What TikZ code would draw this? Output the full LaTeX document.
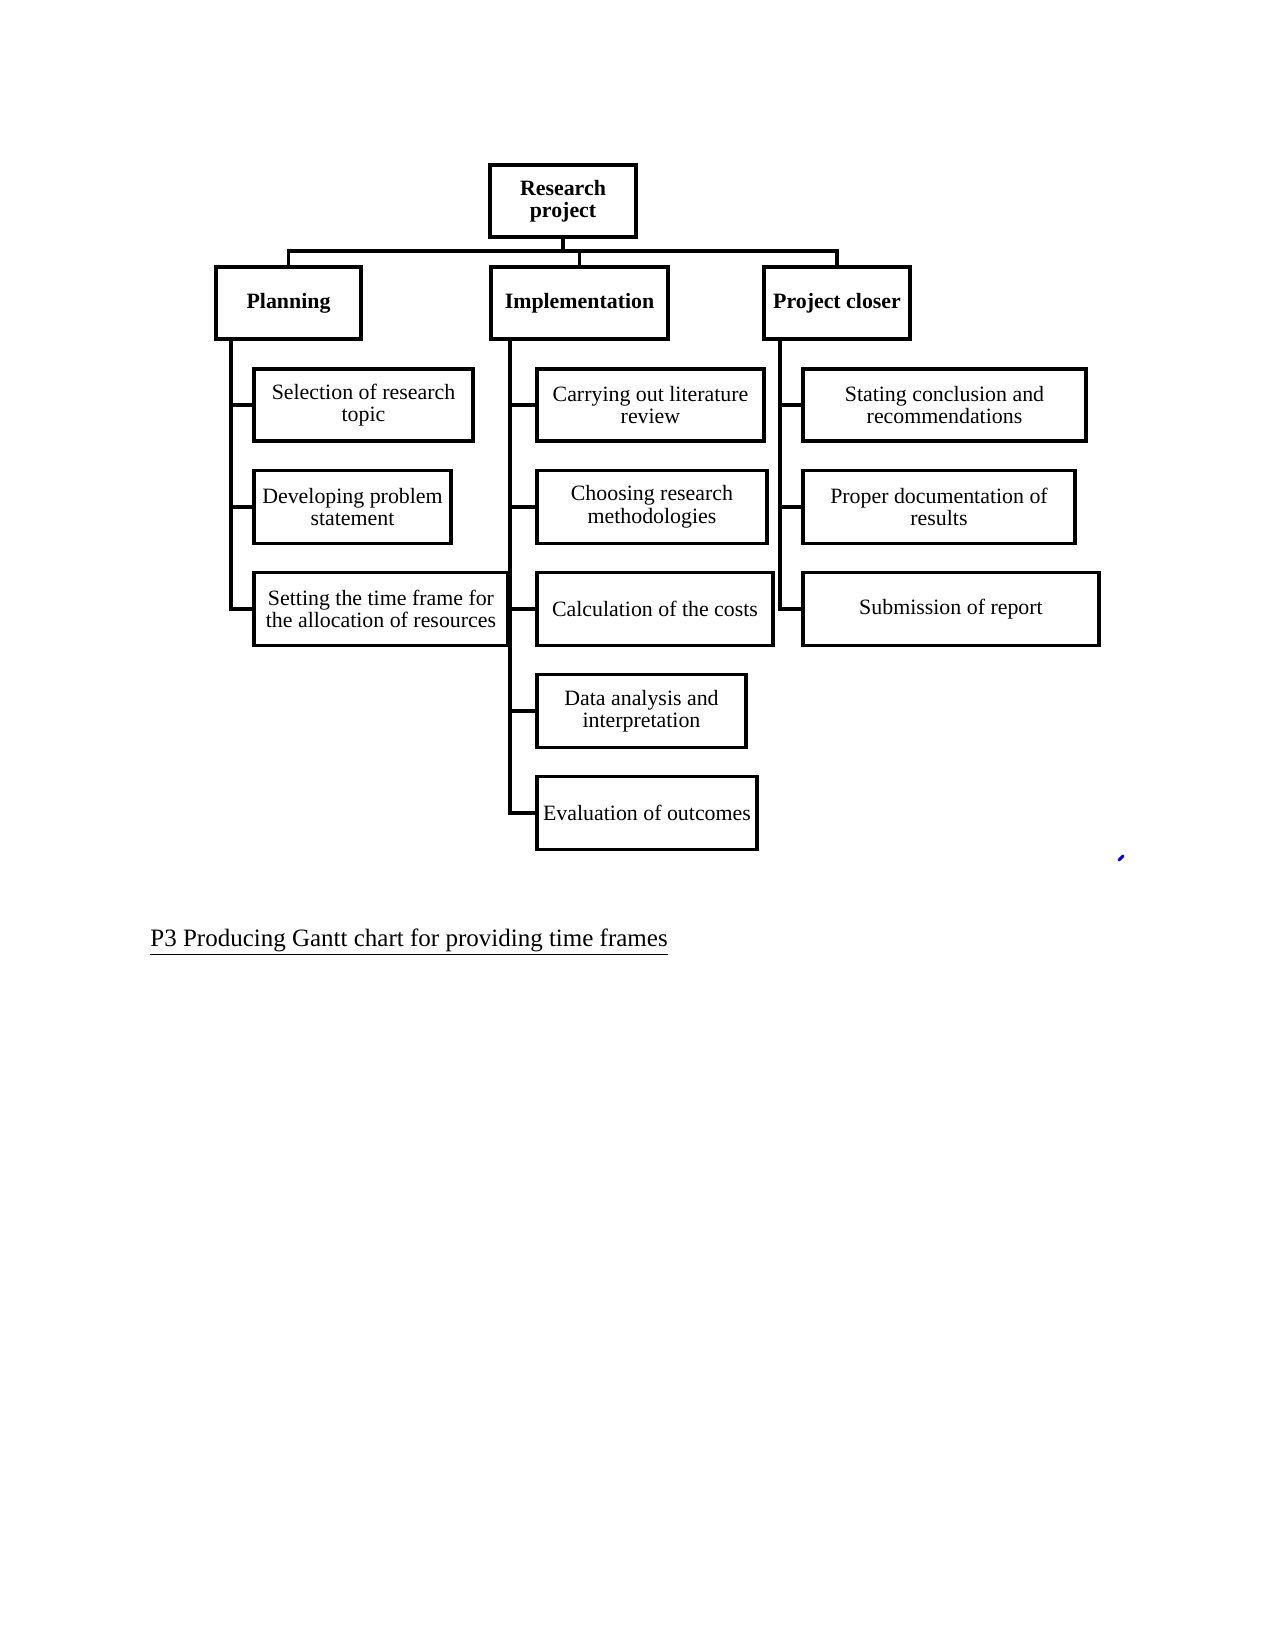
\documentclass[tikz,border=0pt]{standalone}
\usepackage{fontspec}
\setmainfont{Liberation Serif}
\usetikzlibrary{positioning}

\begin{document}
\begin{tikzpicture}[x=0.48pt, y=-0.48pt,
  box/.style={draw, line width=1.9pt, align=center, inner sep=1pt, anchor=west,
    font=\fontsize{10.5}{10.8}\selectfont},
  head/.style={box, anchor=center, font=\fontsize{10.5}{10.8}\selectfont\bfseries},
  sz/.style 2 args={minimum width=#1*0.48pt, minimum height=#2*0.48pt},
  link/.style={line width=1.6pt}]
  \useasboundingbox (0,0) rectangle (1275,1650);

  % top of the tree
  \node[head, sz={146}{72}] (root) at (563,201) {Research\\project};
  \node[head, sz={145}{72}] (plan) at (288.5,303) {Planning};
  \node[head, sz={177}{72}] (impl) at (579.5,303) {Implementation};
  \node[head, sz={146}{72}] (close) at (837,303) {Project closer};

  \coordinate (bus) at (563,251);
  \draw[link] (root.south) -- (bus);
  \draw[link] (plan.north) |- (bus) -| (close.north);
  \draw[link] (impl.north) |- (bus);

  % planning
  \node[box, sz={219}{72}] (sel) at (252,405) {Selection of research\\topic};
  \node[box, sz={197}{73}] (dev) at (252,507) {Developing problem\\statement};
  \node[box, sz={254}{73}] (setf) at (252,609) {Setting the time frame for\\the allocation of resources};

  % implementation
  \node[box, sz={227}{72}] (lit) at (535,405) {Carrying out literature\\review};
  \node[box, sz={230}{73}] (meth) at (535,507) {Choosing research\\methodologies};
  \node[box, sz={236}{73}] (cost) at (535,609) {Calculation of the costs};
  \node[box, sz={209}{73}] (data) at (535,711) {Data analysis and\\interpretation};
  \node[box, sz={220}{73}] (eval) at (535,813) {Evaluation of outcomes};

  % project closer
  \node[box, sz={283}{72}] (concl) at (801,405) {Stating conclusion and\\recommendations};
  \node[box, sz={272}{73}] (docu) at (801,507) {Proper documentation of\\results};
  \node[box, sz={296}{73}] (subm) at (801,609) {Submission of report};

  \coordinate (ps) at (231,0);
  \coordinate (is) at (510,0);
  \coordinate (cs) at (780,0);
  \foreach \n in {sel,dev,setf}
    \draw[link] (ps |- plan.south) |- (\n.west);
  \foreach \n in {lit,meth,cost,data,eval}
    \draw[link] (is |- impl.south) |- (\n.west);
  \foreach \n in {concl,docu,subm}
    \draw[link] (cs |- close.south) |- (\n.west);

  \draw[blue, line width=1.5pt, line cap=round] (1119,860) -- (1123,856);

  \node[anchor=base west, inner sep=0pt, font=\fontsize{12}{14}\selectfont] (cap) at (150,946)
    {\underline{P3 Producing Gantt chart for providing time frames}};
\end{tikzpicture}
\end{document}
